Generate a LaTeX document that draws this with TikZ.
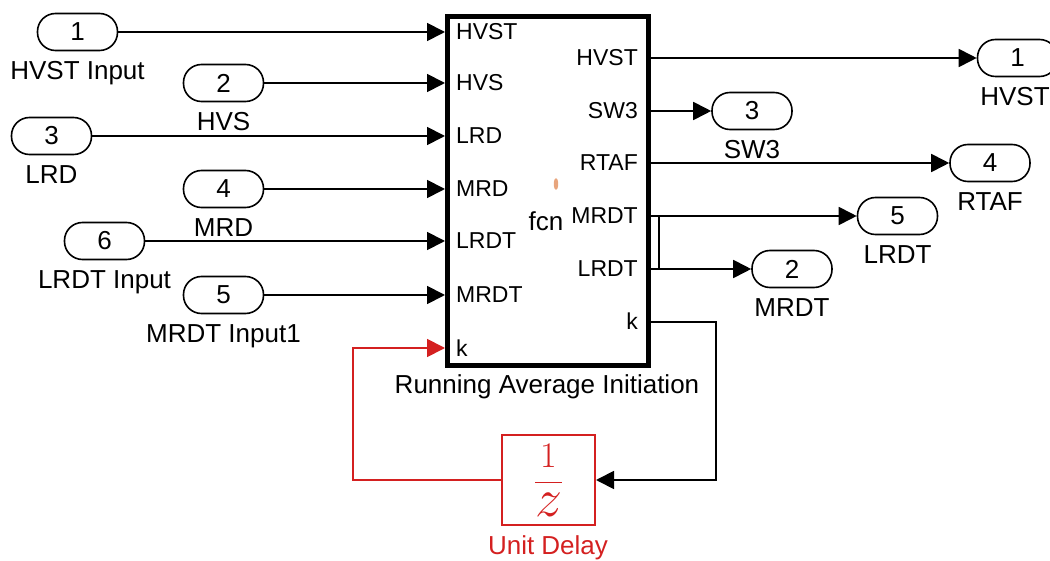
\documentclass[tikz,border=0pt]{standalone}
\usepackage{fix-cm}
\usepackage{fontspec}
\setmainfont{Liberation Sans}
\usetikzlibrary{arrows.meta}
\definecolor{sred}{RGB}{212,32,32}
\definecolor{dotorange}{RGB}{232,165,125}
\begin{document}
\begin{tikzpicture}[x=1pt,y=-1pt,
  pill/.style={draw,line width=1.6pt,rounded corners=18pt,minimum width=80pt,minimum height=37pt,inner sep=0pt,font=\fontsize{26}{28}\selectfont},
  lbl/.style={font=\fontsize{26}{28}\selectfont,inner sep=0pt,anchor=base},
  portl/.style={font=\fontsize{23}{25}\selectfont,inner sep=0pt,anchor=base west},
  portr/.style={font=\fontsize{23}{25}\selectfont,inner sep=0pt,anchor=base east},
  wire/.style={line width=1.8pt},
  tip/.style={-{Triangle[length=18pt,width=18pt]}},
  conn/.style={wire,tip}]
\useasboundingbox (0,0) rectangle (1050,561);
\clip (0,0) rectangle (1050,561);

% main block
\node[draw,line width=5pt,minimum width=200.5pt,minimum height=349pt,inner sep=0pt] (blk) at (547.75,191) {};
\node[lbl] (blkname) at (547,393) {Running Average Initiation};
\node[lbl] (fcn) at (546,231) {fcn};
\fill[dotorange] (556,184) ellipse (2.2pt and 6pt);

% input ports on block
\foreach \n/\y/\t in {a/32/HVST,b/83/HVS,c/136/LRD,d/189/MRD,e/241/LRDT,f/295/MRDT,k/348/k}{
  \coordinate (pi\n) at (445,\y);
  \node[portl] (ti\n) at (456,\y+8) {\t};
}
% output ports on block
\foreach \n/\y/\t in {a/58/HVST,b/111/SW3,c/163/RTAF,d/216/MRDT,e/269/LRDT,k/322/k}{
  \coordinate (po\n) at (650,\y);
  \node[portr] (to\n) at (638,\y+8) {\t};
}

% input pills
\node[pill] (in1) at (77.5,32) {1};
\node[lbl] (ln1) at (77.5,80) {HVST Input};
\node[pill] (in2) at (223.5,83) {2};
\node[lbl] (ln2) at (223.5,131) {HVS};
\node[pill] (in3) at (51.5,136) {3};
\node[lbl] (ln3) at (51.5,184) {LRD};
\node[pill] (in4) at (223.5,189) {4};
\node[lbl] (ln4) at (223.5,237) {MRD};
\node[pill] (in6) at (104.5,241) {6};
\node[lbl] (ln6) at (104.5,289) {LRDT Input};
\node[pill] (in5) at (223.5,295) {5};
\node[lbl] (ln5) at (223.5,343) {MRDT Input1};

\draw[conn] (in1) -- (pia);
\draw[conn] (in2) -- (pib);
\draw[conn] (in3) -- (pic);
\draw[conn] (in4) -- (pid);
\draw[conn] (in6) -- (pie);
\draw[conn] (in5) -- (pif);

% output pills
\node[pill] (out1) at (1017.5,58) {1};
\node[lbl] (lo1) at (1015,106) {HVST};
\node[pill] (out3) at (752,111) {3};
\node[lbl] (lo3) at (752,159) {SW3};
\node[pill] (out4) at (990,163) {4};
\node[lbl] (lo4) at (990,211) {RTAF};
\node[pill] (out5) at (897.5,216) {5};
\node[lbl] (lo5) at (897.5,264) {LRDT};
\node[pill] (out2) at (792,269) {2};
\node[lbl] (lo2) at (792,317) {MRDT};

\draw[conn] (poa) -- (out1);
\draw[conn] (pob) -- (out3);
\draw[conn] (poc) -- (out4);
\draw[conn] (pod) -- (out5);
\draw[conn] (poe) -- (out2);
\coordinate (brt) at (659,216);
\coordinate (brb) at (659,269);
\draw[wire] (brt) -- (brb);

% unit delay
\node[draw=sred,line width=2pt,minimum width=93pt,minimum height=90pt,inner sep=0pt,text=sred] (ud) at (548.5,480)
  {\fontsize{36}{40}\selectfont$\displaystyle\frac{1}{\scalebox{1.5}{$z$}}$};
\node[lbl,text=sred] (udl) at (548,554) {Unit Delay};

\coordinate (kr) at (716,322);
\draw[conn] (pok) -- (kr) |- (ud.east);
\coordinate (kl) at (353,348);
\draw[wire,draw=sred,tip] (ud.west) -| (kl) -- (pik);
\end{tikzpicture}
\end{document}
